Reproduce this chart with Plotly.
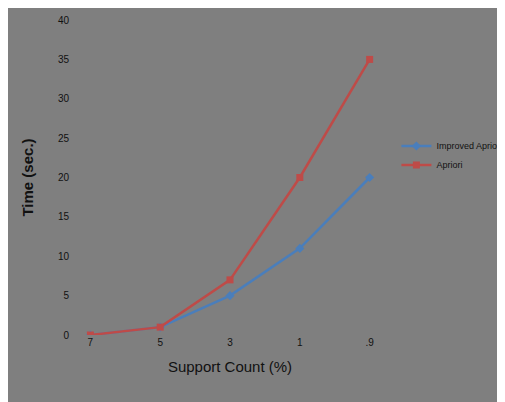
import plotly.graph_objects as go

categories = ["7", "5", "3", "1", ".9"]
improved = [0, 1, 5, 11, 20]
apriori = [0, 1, 7, 20, 35]

fig = go.Figure()
fig.add_trace(go.Scatter(x=categories, y=improved, name="Improved Apriori", mode="lines+markers",
                         line=dict(color="#4a7ebb", width=2.5), marker=dict(symbol="diamond", size=7)))
fig.add_trace(go.Scatter(x=categories, y=apriori, name="Apriori", mode="lines+markers",
                         line=dict(color="#be4b48", width=2.5), marker=dict(symbol="square", size=7)))
fig.update_layout(
    width=505, height=402, paper_bgcolor="#7f7f7f", plot_bgcolor="#7f7f7f",
    margin=dict(l=62, r=122, t=6, b=75),
    font=dict(family="Liberation Sans", color="#111111", size=10),
    xaxis=dict(type="category", showgrid=False, zeroline=False, showline=False,
               title=dict(text="Support Count (%)", font=dict(size=15), standoff=14), ticks=""),
    yaxis=dict(range=[0, 40], dtick=5, showgrid=False, zeroline=False, showline=False,
               title=dict(text="<b>Time (sec.)</b>", font=dict(size=15), standoff=20), ticks=""),
    legend=dict(x=1.02, y=0.57, xanchor="left", yanchor="middle", bgcolor="rgba(0,0,0,0)",
                font=dict(size=9)),
)
fig.write_html("out.html")
